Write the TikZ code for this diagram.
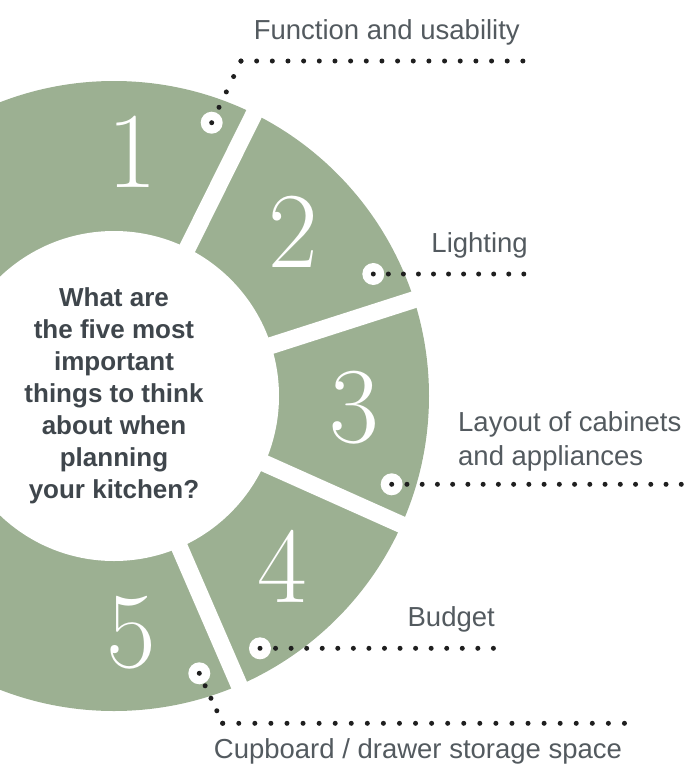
\documentclass[tikz,border=0pt]{standalone}
\usepackage{fontspec}
\newfontfamily\qfont{Liberation Sans}
\newfontfamily\labelfont{Liberation Sans}
\definecolor{sage}{HTML}{9CB092}
\definecolor{qtext}{HTML}{3F464C}
\definecolor{ltext}{HTML}{535A5F}
\definecolor{dotc}{HTML}{1F1F1F}
\begin{document}
\begin{tikzpicture}[x=1pt,y=-1pt,
  gapline/.style={draw=white, line width=17pt},
  digit/.style={text=white, font=\rmfamily\fontsize{108}{108}\selectfont, inner sep=0pt},
  question/.style={text=qtext, font=\qfont\bfseries\fontsize{26}{32}\selectfont, align=center, inner sep=0pt},
  lbl/.style={text=ltext, font=\labelfont\fontsize{27.5}{34}\selectfont, inner sep=0pt},
  markcirc/.style={circle, fill=white, minimum size=22pt, inner sep=0pt},
  leader/.style={draw=dotc, line width=5pt, line cap=round, dash pattern=on 0pt off #1}]
\useasboundingbox (0,0) rectangle (686,764);
\clip (0,0) rectangle (686,764);
% ring
\coordinate (C) at (114,396);
\fill[sage] (C) circle (315);
\foreach \a in {-63.6,-17.8,24.1,66.6} \draw[gapline] (C) -- ++(\a:345);
\fill[white] (C) circle (165);
% digits
\node[digit] (d1) at (132,152) {1};
\node[digit] (d2) at (293,232) {2};
\node[digit] (d3) at (354,408) {3};
\node[digit] (d4) at (282,566) {4};
\node[digit] (d5) at (131,633) {5};
% central question
\node[question] (q) at (114,396) {What are\\the five most\\important\\things to think\\about when\\planning\\your kitchen?};
% markers
\node[markcirc] (m1) at (211.7,122.7) {};
\node[markcirc] (m2) at (373.3,274) {};
\node[markcirc] (m3) at (391.7,484.3) {};
\node[markcirc] (m4) at (260,648.3) {};
\node[markcirc] (m5) at (199.3,673.3) {};
% leader points
\coordinate (k1) at (241,61);
\coordinate (e1) at (523.3,61);
\coordinate (e2) at (524,274);
\coordinate (e3) at (681.7,484.3);
\coordinate (e4) at (494,648.3);
\coordinate (k5) at (222.7,723.3);
\coordinate (e5) at (625,723.3);
% leaders
\draw[leader=17.04pt] (m1.center) -- (k1);
\draw[leader=15.66pt] (k1) -- (e1);
\draw[leader=15.05pt] (m2.center) -- (e2);
\draw[leader=15.24pt] (m3.center) -- (e3);
\draw[leader=15.56pt] (m4.center) -- (e4);
\draw[leader=13.78pt] (m5.center) -- (k5);
\draw[leader=16.07pt] (k5) -- (e5);
% labels
\node[lbl, anchor=base east] (l1) at (520,39) {Function and usability};
\node[lbl, anchor=base east] (l2) at (528,252) {Lighting};
\node[lbl, anchor=north west, align=left] (l3) at (458,411) {Layout of cabinets\\and appliances};
\node[lbl, anchor=base east] (l4) at (495,626) {Budget};
\node[lbl, anchor=base] (l5) at (418,758) {Cupboard / drawer storage space};
\end{tikzpicture}
\end{document}
